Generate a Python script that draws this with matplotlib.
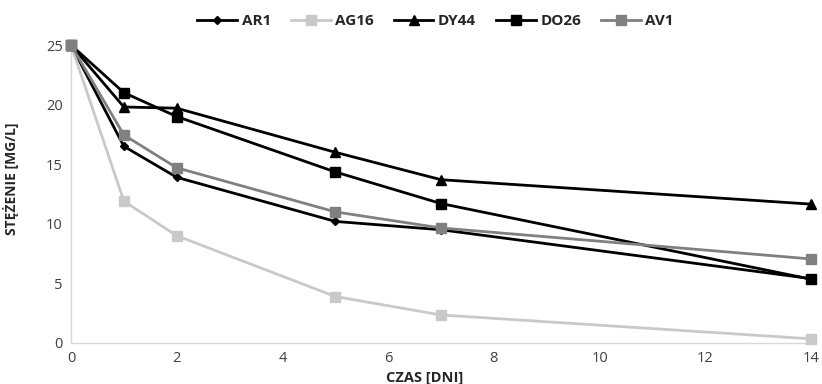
import matplotlib
matplotlib.use("Agg")
import matplotlib.pyplot as plt

plt.rcParams['font.family'] = ['Open Sans', 'DejaVu Sans']

days = [0, 1, 2, 5, 7, 14]
ar1 = [25, 16.5, 13.9, 10.2, 9.5, 5.4]
ag16 = [25, 11.9, 9.0, 3.9, 2.35, 0.35]
dy44 = [25, 19.8, 19.7, 16.0, 13.7, 11.65]
do26 = [25, 21.0, 19.0, 14.35, 11.7, 5.35]
av1 = [25, 17.45, 14.7, 11.0, 9.65, 7.05]

series_names = ["AR1", "AG16", "DY44", "DO26", "AV1"]
x_ticks = [0, 2, 4, 6, 8, 10, 12, 14]
y_ticks = [0, 5, 10, 15, 20, 25]

styles = [
    dict(color="#000000", marker="D", ms=4.5),
    dict(color="#C9C9C9", marker="s", ms=6.5),
    dict(color="#000000", marker="^", ms=7),
    dict(color="#000000", marker="s", ms=7),
    dict(color="#808080", marker="s", ms=6.5),
]

fig = plt.figure(figsize=(8.22, 3.84), dpi=100)
ax = fig.add_axes([0.0864, 0.1068, 0.9002, 0.776])

for name, vals, st in zip(series_names, [ar1, ag16, dy44, do26, av1], styles):
    ax.plot(days, vals, color=st["color"], lw=2.0, marker=st["marker"],
            ms=st["ms"], mfc=st["color"], mec=st["color"], label=name,
            clip_on=False, zorder=3)

ax.set_xlim(0, 14)
ax.set_ylim(0, 25)
ax.set_xticks(x_ticks)
ax.set_yticks(y_ticks)
ax.tick_params(axis="both", length=0, labelsize=10.5, colors="#404040", pad=6)
for s in ["top", "right"]:
    ax.spines[s].set_visible(False)
for s in ["left", "bottom"]:
    ax.spines[s].set_color("#D9D9D9")
    ax.spines[s].set_linewidth(1.0)

ax.set_xlabel("CZAS [DNI]", fontsize=10.5, fontweight="bold", color="#262626")
ax.xaxis.set_label_coords(0.478, -0.095)
ax.set_ylabel("STĘŻENIE [MG/L]", fontsize=10, fontweight="bold", color="#262626")
ax.yaxis.set_label_coords(-0.07, 0.55)

leg = fig.legend(loc="center", bbox_to_anchor=(0.53, 0.945), ncol=5, frameon=False,
                 fontsize=11, handlelength=2.6, columnspacing=1.3, handletextpad=0.3)
for t in leg.get_texts():
    t.set_fontweight("bold")
    t.set_color("#262626")

fig.savefig("out.png", dpi=100)
